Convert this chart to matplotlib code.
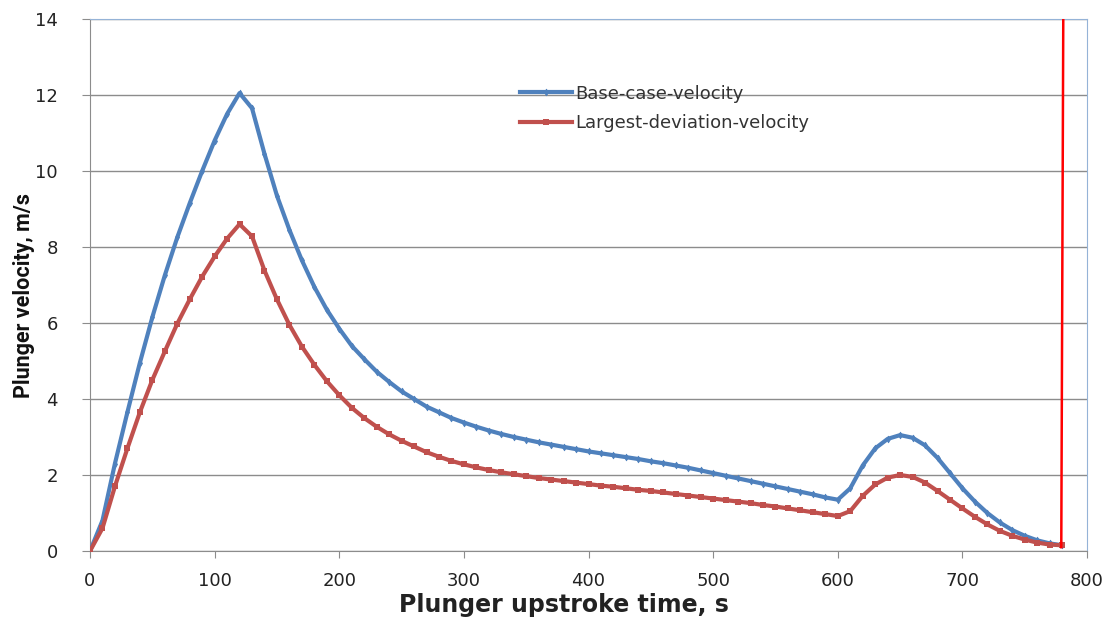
import matplotlib
matplotlib.use("Agg")
import matplotlib.pyplot as plt
import numpy as np

plt.rcParams["font.family"] = "DejaVu Sans"

# upstroke time, s (one point every 10 s)
t = list(range(0, 790, 10))

# base case plunger velocity, m/s
v_base = [0.0, 0.8, 2.3, 3.65, 4.95, 6.15, 7.25, 8.25, 9.15, 10.0,
          10.8, 11.5, 12.05, 11.65, 10.45, 9.35, 8.45, 7.65, 6.95, 6.35,
          5.85, 5.4, 5.05, 4.72, 4.45, 4.2, 4.0, 3.8, 3.65, 3.5,
          3.38, 3.27, 3.17, 3.08, 3.0, 2.93, 2.86, 2.8, 2.74, 2.68,
          2.62, 2.57, 2.52, 2.47, 2.42, 2.36, 2.31, 2.25, 2.19, 2.12,
          2.05, 1.98, 1.91, 1.84, 1.77, 1.70, 1.63, 1.56, 1.49, 1.41,
          1.35, 1.65, 2.25, 2.7, 2.95, 3.05, 2.98, 2.78, 2.45, 2.05,
          1.65, 1.3, 1.0, 0.75, 0.55, 0.4, 0.28, 0.2, 0.15]

# largest deviation plunger velocity, m/s
v_dev = [0.0, 0.6, 1.7, 2.7, 3.65, 4.5, 5.25, 5.98, 6.62, 7.22,
         7.75, 8.22, 8.6, 8.28, 7.38, 6.62, 5.95, 5.38, 4.9, 4.47,
         4.1, 3.77, 3.5, 3.27, 3.07, 2.9, 2.75, 2.6, 2.48, 2.37,
         2.28, 2.2, 2.13, 2.07, 2.02, 1.97, 1.92, 1.88, 1.84, 1.8,
         1.76, 1.72, 1.69, 1.65, 1.61, 1.58, 1.54, 1.5, 1.46, 1.42,
         1.38, 1.34, 1.3, 1.26, 1.21, 1.17, 1.12, 1.07, 1.02, 0.97,
         0.92, 1.05, 1.45, 1.75, 1.93, 2.0, 1.95, 1.8, 1.58, 1.35,
         1.12, 0.9, 0.7, 0.53, 0.4, 0.3, 0.22, 0.17, 0.15]

# red end-of-upstroke marker line
x_end = [779.3, 780.9]
y_end = [0.1, 14]

blue = "#4F81BD"
red = "#C0504D"

fig = plt.figure(figsize=(11.07, 6.2), dpi=100)
ax = fig.add_axes([0.0813, 0.1113, 0.9007, 0.8581])

ax.plot(t, v_base, color=blue, lw=3, marker="d", ms=3.5, mew=0.5,
        label="Base-case-velocity", zorder=3)
ax.plot(t, v_dev, color=red, lw=3, marker="s", ms=5, mew=0,
        label="Largest-deviation-velocity", zorder=3)
ax.plot(x_end, y_end, color="#FF0000", lw=1.8, zorder=4)

ax.set_xlim(0, 800)
ax.set_ylim(0, 14)
ax.set_xticks(np.arange(0, 801, 100))
ax.set_yticks(np.arange(0, 15, 2))
ax.yaxis.grid(True, color="#8C8C8C", lw=1)
ax.set_axisbelow(True)

for s in ["left", "bottom"]:
    ax.spines[s].set_color("#8C8C8C")
for s in ["top", "right"]:
    ax.spines[s].set_color("#95B3D7")
ax.tick_params(axis="y", direction="out", length=6, pad=17, color="#8C8C8C",
               labelsize=13, labelcolor="#222222")
ax.tick_params(axis="x", direction="out", length=5, pad=10, color="#8C8C8C",
               labelsize=13, labelcolor="#222222")

ax.set_xlabel("Plunger upstroke time, s", fontsize=17, fontweight="bold",
              color="#222222", labelpad=2, x=0.475)
ax.set_ylabel("Plunger velocity, m/s", fontsize=15.5, fontweight="bold",
              family=["Roboto", "DejaVu Sans"], color="#111111", labelpad=0,
              y=0.481)

leg = ax.legend(loc="upper left", bbox_to_anchor=(0.415, 0.907), frameon=False,
                handlelength=2.9, handletextpad=0.15, labelspacing=0.65,
                prop={"family": "DejaVu Sans", "size": 13})
for txt in leg.get_texts():
    txt.set_color("#333333")

fig.savefig("out.png", dpi=100)
